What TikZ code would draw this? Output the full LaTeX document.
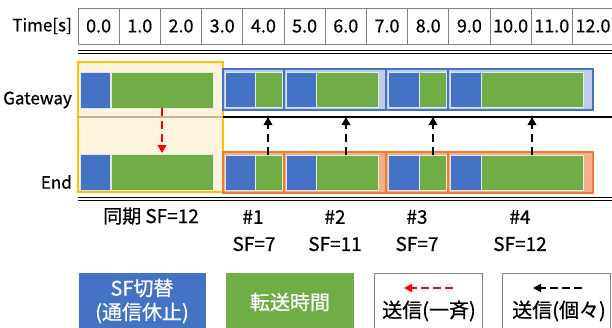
\documentclass[tikz,border=0pt]{standalone}
\usepackage{fontspec}
\setmainfont{Noto Sans CJK JP}[UprightFeatures={FakeBold=0.6}]
\usetikzlibrary{arrows.meta}
\definecolor{blueC}{HTML}{4472C4}
\definecolor{greenC}{HTML}{70AD47}
\definecolor{yelFill}{HTML}{FCF3DE}
\definecolor{yelLine}{HTML}{FFC000}
\definecolor{ltBlue}{HTML}{BDCDEB}
\definecolor{ltOrange}{HTML}{F4B08A}
\definecolor{orangeC}{HTML}{ED7D31}
\definecolor{tanC}{HTML}{C8B48C}
\definecolor{cellGray}{HTML}{808080}
\tikzset{
  box/.style={anchor=north west, inner sep=0pt, outer sep=0pt},
  cell/.style={box, draw=cellGray, line width=0.7pt, minimum width=41.2pt, minimum height=36pt, font=\fontsize{18}{20}\selectfont},
  blueblk/.style={box, fill=blueC, draw=white!80!blueC, line width=0.8pt},
  greenblk/.style={box, fill=greenC, draw=white!80!greenC, line width=0.8pt},
  gwgroup/.style={box, fill=ltBlue, draw=blueC, line width=1.1pt},
  endgroup/.style={box, fill=ltOrange, draw=orangeC, line width=1.1pt},
  lbl/.style={inner sep=0pt, font=\fontsize{19}{21}\selectfont},
  sendarrow/.style={line width=2.4pt, dash pattern=on 8pt off 5pt, -{Triangle[length=8pt,width=8.5pt]}},
  legarrow/.style={line width=2.4pt, dash pattern=on 8pt off 4pt, -{Triangle[length=8pt,width=8pt]}},
  legbox/.style={box, minimum width=#1, minimum height=70pt},
  legtext/.style={inner sep=0pt, font=\fontsize{20}{22}\selectfont}
}
\begin{document}
\begin{tikzpicture}[x=1pt,y=-1pt]
\useasboundingbox (0,0) rectangle (612,327);
\clip (0,0) rectangle (612,327);
\fill[white] (0,0) rectangle (612,327);

% header
\node[lbl, anchor=east, font=\fontsize{17}{19}\selectfont] (timelbl) at (72,26) {Time[s]};
\foreach \i in {0,...,12}{
  \pgfmathsetmacro{\xx}{78+41.2*\i}
  \node[cell] (c\i) at (\xx,8) {\i.0};
}
\draw[line width=1.3pt] (78,50.5) -- (612,50.5);
\draw[line width=0.5pt] (78,53) -- (612,53);

% sync box
\node[box, fill=yelFill, draw=yelLine, line width=1.1pt, minimum width=145pt, minimum height=130pt] (sync) at (78,62) {};
\coordinate (gl0) at (78,117);
\coordinate (gl1) at (223,117);
\coordinate (gl2) at (612,117);
\draw[tanC, line width=1.3pt] (gl0) -- (gl1);
\draw[line width=1.3pt] (gl1) -- (gl2);

% row labels
\node[lbl, anchor=east, font=\fontsize{17}{19}\selectfont] (gwlbl) at (72,100) {Gateway};
\node[lbl, anchor=east, font=\fontsize{17}{19}\selectfont] (endlbl) at (72,182) {End};

% sync blocks
\node[blueblk, minimum width=30pt, minimum height=36pt] (sgb) at (80,72) {};
\node[greenblk, minimum width=102pt, minimum height=36pt] (sgg) at (111,72) {};
\node[blueblk, minimum width=30pt, minimum height=36pt] (seb) at (80,154) {};
\node[greenblk, minimum width=102pt, minimum height=36pt] (seg) at (111,154) {};

% gateway groups
\node[gwgroup, minimum width=61pt, minimum height=41pt] (gw1) at (223,69) {};
\node[gwgroup, minimum width=102pt, minimum height=41pt] (gw2) at (284,69) {};
\node[gwgroup, minimum width=62pt, minimum height=41pt] (gw3) at (386,69) {};
\node[gwgroup, minimum width=145pt, minimum height=41pt] (gw4) at (448,69) {};
% end groups
\node[endgroup, minimum width=61pt, minimum height=41pt] (en1) at (223,152) {};
\node[endgroup, minimum width=102pt, minimum height=41pt] (en2) at (284,152) {};
\node[endgroup, minimum width=62pt, minimum height=41pt] (en3) at (386,152) {};
\node[endgroup, minimum width=145pt, minimum height=41pt] (en4) at (448,152) {};

% blocks in groups
\foreach \r/\y in {g/72, e/155}{
  \node[blueblk, minimum width=30pt, minimum height=35pt] (\r b1) at (225,\y) {};
  \node[greenblk, minimum width=27pt, minimum height=35pt] (\r g1) at (255,\y) {};
  \node[blueblk, minimum width=30pt, minimum height=35pt] (\r b2) at (286,\y) {};
  \node[greenblk, minimum width=62pt, minimum height=35pt] (\r g2) at (316,\y) {};
  \node[blueblk, minimum width=31pt, minimum height=35pt] (\r b3) at (388,\y) {};
  \node[greenblk, minimum width=27pt, minimum height=35pt] (\r g3) at (419,\y) {};
  \node[blueblk, minimum width=31pt, minimum height=35pt] (\r b4) at (450,\y) {};
  \node[greenblk, minimum width=102pt, minimum height=35pt] (\r g4) at (481,\y) {};
}

% end baseline
\draw[line width=1.3pt] (78,197.5) -- (612,197.5);
\draw[line width=0.5pt] (78,200) -- (612,200);

% arrows
\coordinate (rtop) at (162,108);
\coordinate (rbot) at (162,153);
\draw[sendarrow, red] (rtop) -- (rbot);
\coordinate (a1) at (268,117);
\coordinate (a2) at (346,117);
\coordinate (a3) at (433,117);
\coordinate (a4) at (532,117);
\coordinate (b1) at (268,155);
\coordinate (b2) at (346,155);
\coordinate (b3) at (433,155);
\coordinate (b4) at (532,155);
\draw[sendarrow] (b1) -- (a1);
\draw[sendarrow] (b2) -- (a2);
\draw[sendarrow] (b3) -- (a3);
\draw[sendarrow] (b4) -- (a4);

% bottom labels
\node[lbl] (syncl) at (151,216) {同期 SF=12};
\node[lbl] (n1) at (253,217) {\#1};
\node[lbl] (n2) at (335,217) {\#2};
\node[lbl] (n3) at (417,217) {\#3};
\node[lbl] (n4) at (520,217) {\#4};
\node[lbl] (s1) at (254,244) {SF=7};
\node[lbl] (s2) at (335,244) {SF=11};
\node[lbl] (s3) at (417,244) {SF=7};
\node[lbl] (s4) at (520,244) {SF=12};

% legend
\node[legbox=127pt, fill=blueC] (lg1) at (79,273) {};
\node[legtext, text=white] (lg1a) at (142,288) {SF切替};
\node[legtext, text=white] (lg1b) at (142,313) {(通信休止)};
\node[legbox=128pt, fill=greenC] (lg2) at (226,273) {};
\node[legtext, text=white] (lg2a) at (290,302) {転送時間};
\node[legbox=108pt, draw=cellGray, line width=0.7pt] (lg3) at (374,273) {};
\coordinate (l3s) at (453,288);
\coordinate (l3e) at (404,288);
\draw[legarrow, red] (l3s) -- (l3e);
\node[legtext] (lg3a) at (429,311) {送信(一斉)};
\node[legbox=108pt, draw=cellGray, line width=0.7pt] (lg4) at (502,273) {};
\coordinate (l4s) at (582,288);
\coordinate (l4e) at (533,288);
\draw[legarrow] (l4s) -- (l4e);
\node[legtext] (lg4a) at (559,311) {送信(個々)};
\end{tikzpicture}
\end{document}
